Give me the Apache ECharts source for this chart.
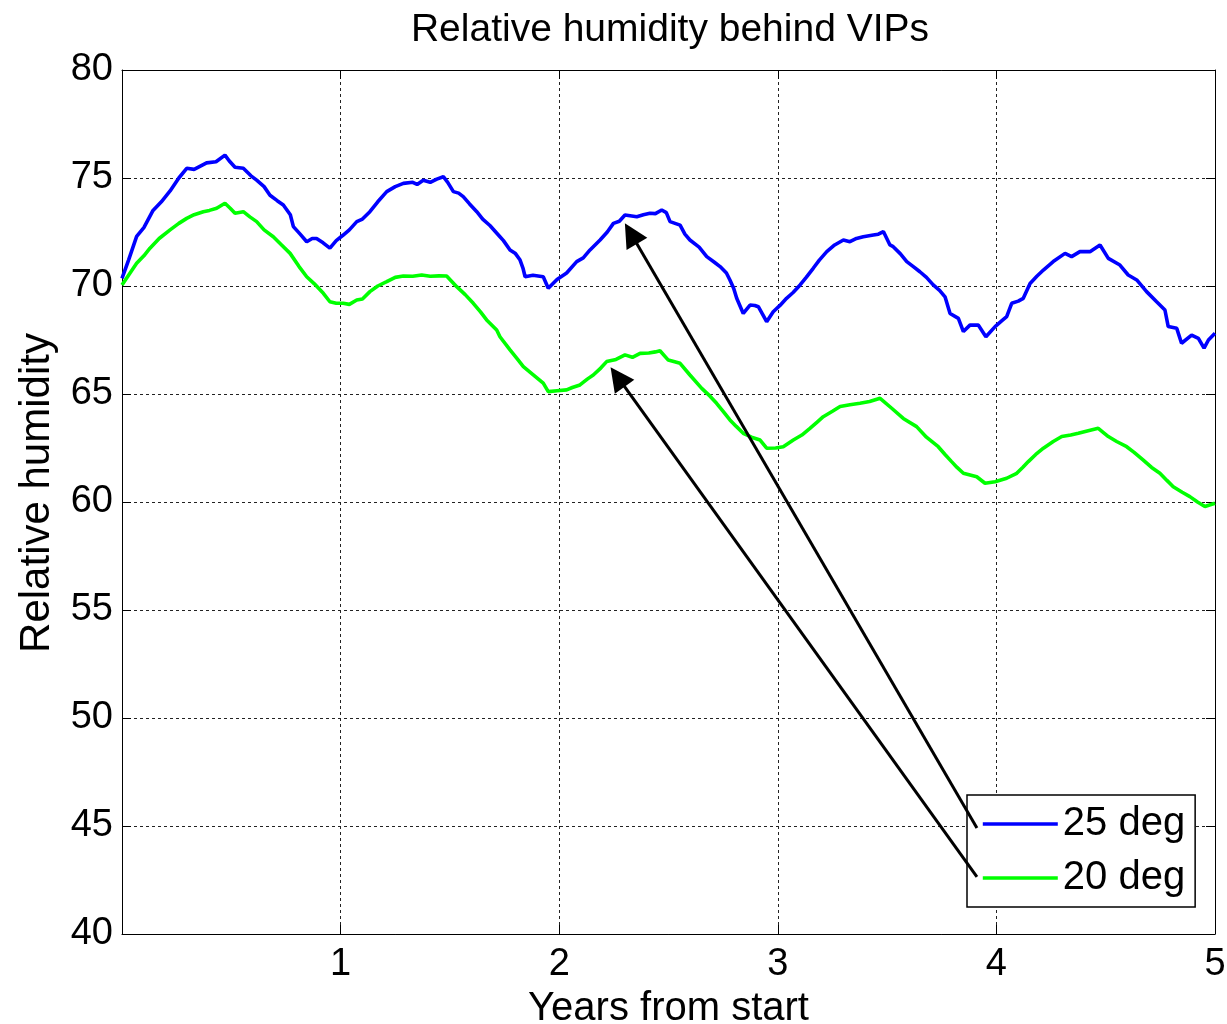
<!DOCTYPE html>
<html>
<head>
<meta charset="utf-8">
<script src="https://cdn.jsdelivr.net/npm/echarts@6/dist/echarts.min.js"></script>
<style>html,body{margin:0;padding:0;background:#fff}#c{width:1227px;height:1024px}</style>
</head>
<body>
<div id="c"></div>
<script>
var titleText = 'Relative humidity behind VIPs';
var xName = 'Years from start';
var yName = 'Relative humidity';
var seriesNames = ['25 deg', '20 deg'];
var xTicks = [0, 1, 2, 3, 4, 5];
var yTicks = [40, 45, 50, 55, 60, 65, 70, 75, 80];

var deg25 = [[0,70.35],[0.03,71.2],[0.067,72.3],[0.1,72.7],[0.142,73.5],[0.18,73.9],[0.22,74.4],[0.26,75.0],[0.296,75.45],[0.33,75.4],[0.387,75.7],[0.43,75.75],[0.471,76.06],[0.49,75.8],[0.517,75.5],[0.555,75.45],[0.59,75.1],[0.616,74.9],[0.65,74.6],[0.677,74.2],[0.71,73.95],[0.738,73.75],[0.77,73.3],[0.784,72.75],[0.815,72.4],[0.845,72.05],[0.87,72.2],[0.89,72.2],[0.92,72.0],[0.951,71.75],[0.98,72.1],[1.012,72.36],[1.04,72.6],[1.074,72.98],[1.1,73.1],[1.134,73.44],[1.17,73.9],[1.211,74.37],[1.25,74.6],[1.287,74.75],[1.33,74.8],[1.35,74.7],[1.378,74.9],[1.41,74.8],[1.44,74.95],[1.47,75.06],[1.49,74.8],[1.516,74.37],[1.54,74.3],[1.561,74.14],[1.59,73.8],[1.623,73.44],[1.65,73.1],[1.683,72.8],[1.729,72.28],[1.745,72.1],[1.775,71.67],[1.8,71.5],[1.821,71.2],[1.835,70.8],[1.844,70.43],[1.88,70.5],[1.927,70.43],[1.95,69.9],[1.99,70.3],[2.034,70.6],[2.08,71.13],[2.11,71.3],[2.141,71.67],[2.187,72.13],[2.22,72.5],[2.248,72.9],[2.275,73.0],[2.301,73.29],[2.355,73.21],[2.385,73.3],[2.415,73.37],[2.44,73.35],[2.469,73.52],[2.49,73.4],[2.507,72.98],[2.553,72.82],[2.575,72.4],[2.598,72.13],[2.64,71.8],[2.675,71.36],[2.71,71.1],[2.736,70.9],[2.765,70.6],[2.781,70.28],[2.798,69.9],[2.812,69.43],[2.842,68.73],[2.873,69.12],[2.895,69.1],[2.911,69.04],[2.93,68.7],[2.949,68.35],[2.979,68.81],[3.01,69.1],[3.04,69.43],[3.07,69.7],[3.102,70.05],[3.13,70.4],[3.162,70.82],[3.19,71.2],[3.224,71.59],[3.26,71.9],[3.3,72.13],[3.33,72.05],[3.36,72.2],[3.391,72.28],[3.437,72.36],[3.46,72.4],[3.483,72.52],[3.513,71.9],[3.528,71.82],[3.56,71.5],[3.59,71.13],[3.62,70.9],[3.65,70.66],[3.68,70.4],[3.711,70.05],[3.74,69.8],[3.765,69.5],[3.788,68.73],[3.826,68.5],[3.849,67.89],[3.879,68.19],[3.917,68.19],[3.952,67.65],[3.994,68.12],[4.02,68.35],[4.047,68.58],[4.07,69.2],[4.1,69.3],[4.123,69.43],[4.154,70.12],[4.185,70.45],[4.215,70.74],[4.26,71.13],[4.314,71.51],[4.344,71.36],[4.382,71.59],[4.428,71.59],[4.474,71.9],[4.512,71.28],[4.565,70.97],[4.603,70.51],[4.642,70.28],[4.687,69.74],[4.733,69.27],[4.771,68.89],[4.786,68.12],[4.825,68.04],[4.847,67.35],[4.893,67.73],[4.924,67.58],[4.95,67.12],[4.97,67.5],[5.0,67.81]];

var deg20 = [[0,70.05],[0.03,70.5],[0.067,71.05],[0.1,71.4],[0.128,71.75],[0.17,72.2],[0.22,72.6],[0.26,72.9],[0.296,73.13],[0.33,73.3],[0.372,73.44],[0.4,73.5],[0.433,73.6],[0.471,73.83],[0.495,73.6],[0.517,73.37],[0.555,73.44],[0.585,73.2],[0.616,72.98],[0.65,72.6],[0.692,72.28],[0.73,71.9],[0.769,71.51],[0.81,70.9],[0.845,70.43],[0.88,70.1],[0.921,69.66],[0.951,69.27],[0.98,69.2],[1.012,69.2],[1.04,69.15],[1.074,69.35],[1.1,69.4],[1.134,69.74],[1.17,70.0],[1.211,70.2],[1.25,70.4],[1.287,70.46],[1.33,70.45],[1.371,70.51],[1.41,70.45],[1.45,70.47],[1.485,70.46],[1.531,69.97],[1.57,69.6],[1.607,69.2],[1.64,68.8],[1.668,68.43],[1.714,67.96],[1.729,67.65],[1.775,67.04],[1.81,66.6],[1.836,66.27],[1.88,65.9],[1.927,65.5],[1.95,65.11],[1.99,65.15],[2.034,65.19],[2.06,65.3],[2.095,65.42],[2.13,65.7],[2.156,65.88],[2.19,66.2],[2.217,66.5],[2.26,66.6],[2.301,66.81],[2.335,66.7],[2.37,66.88],[2.41,66.9],[2.44,66.95],[2.461,67.0],[2.499,66.57],[2.553,66.42],[2.598,65.88],[2.652,65.26],[2.69,64.9],[2.72,64.57],[2.75,64.2],[2.781,63.8],[2.81,63.5],[2.842,63.18],[2.88,63.0],[2.919,62.87],[2.949,62.49],[2.99,62.5],[3.025,62.56],[3.071,62.87],[3.11,63.1],[3.147,63.41],[3.18,63.7],[3.208,63.95],[3.25,64.2],[3.285,64.42],[3.33,64.5],[3.376,64.57],[3.42,64.65],[3.468,64.8],[3.521,64.34],[3.574,63.87],[3.635,63.49],[3.68,63.0],[3.734,62.56],[3.765,62.2],[3.795,61.87],[3.82,61.6],[3.849,61.33],[3.91,61.17],[3.948,60.87],[3.994,60.94],[4.047,61.1],[4.093,61.33],[4.12,61.6],[4.146,61.87],[4.18,62.2],[4.215,62.49],[4.26,62.8],[4.299,63.03],[4.34,63.1],[4.375,63.18],[4.42,63.3],[4.466,63.41],[4.512,63.03],[4.55,62.8],[4.596,62.56],[4.63,62.3],[4.672,61.94],[4.71,61.6],[4.748,61.33],[4.78,61.0],[4.809,60.71],[4.85,60.45],[4.885,60.25],[4.92,60.0],[4.954,59.79],[5.0,59.94]];

// annotation arrows (data coords): tail -> head
var arrowTail = [[3.911, 44.91], [3.911, 42.64]];
var arrowHead = [[2.328, 72.43], [2.267, 65.79]];

var FONT = 'Liberation Sans, Arial, sans-serif';
var chart = echarts.init(document.getElementById('c'), null, {renderer: 'canvas'});

var xMin = xTicks[0], xMax = xTicks[xTicks.length - 1], xInt = xTicks[1] - xTicks[0];
var yMin = yTicks[0], yMax = yTicks[yTicks.length - 1], yInt = yTicks[1] - yTicks[0];

function baseX(extra) {
  return Object.assign({
    type: 'value', min: xMin, max: xMax, interval: xInt,
    axisLine: {show: true, onZero: false, lineStyle: {color: '#000', width: 1}},
    axisTick: {show: true, inside: true, length: 9, lineStyle: {color: '#000'}},
    splitLine: {show: false}
  }, extra);
}
function baseY(extra) {
  return Object.assign({
    type: 'value', min: yMin, max: yMax, interval: yInt,
    axisLine: {show: true, onZero: false, lineStyle: {color: '#000', width: 1}},
    axisTick: {show: true, inside: true, length: 9, lineStyle: {color: '#000'}},
    splitLine: {show: false}
  }, extra);
}

var markData = arrowTail.map(function (t, i) {
  return [{coord: t}, {coord: arrowHead[i]}];
});

chart.setOption({
  animation: false,
  backgroundColor: '#fff',
  title: {
    text: titleText, left: 665, top: 6, textAlign: 'center',
    textStyle: {fontFamily: FONT, fontSize: 39, fontWeight: 'normal', color: '#000'}
  },
  grid: {left: 122, right: 12, top: 70, bottom: 90, containLabel: false, outerBoundsMode: 'none'},
  legend: {
    orient: 'vertical', left: 967, top: 795,
    padding: [7, 10, 7, 14], itemGap: 10, itemWidth: 75, itemHeight: 14,
    borderColor: '#000', borderWidth: 1.5, backgroundColor: '#fff',
    itemStyle: {opacity: 0},
    lineStyle: {width: 3.6},
    textStyle: {fontFamily: FONT, fontSize: 40, color: '#000', lineHeight: 44},
    data: seriesNames
  },
  xAxis: [
    baseX({
      position: 'bottom',
      name: xName, nameLocation: 'middle', nameGap: 48,
      nameTextStyle: {fontFamily: FONT, fontSize: 40, color: '#000'},
      axisLabel: {margin: 12, fontFamily: FONT, fontSize: 38, color: '#000',
        formatter: function (v) { return v === 0 ? '' : String(v); }},
      splitLine: {show: true, lineStyle: {color: '#222', width: 1, type: [3, 3]}}
    }),
    baseX({position: 'top', axisLabel: {show: false}})
  ],
  yAxis: [
    baseY({
      position: 'left',
      name: yName, nameLocation: 'middle', nameGap: 64, nameRotate: 90,
      nameTextStyle: {fontFamily: FONT, fontSize: 42, color: '#000', padding: [0, 0, 0, 18]},
      axisLabel: {margin: 9, fontFamily: FONT, fontSize: 38, color: '#000'},
      splitLine: {show: true, lineStyle: {color: '#222', width: 1, type: [3, 3]}}
    }),
    baseY({position: 'right', axisLabel: {show: false}})
  ],
  series: [
    {
      name: seriesNames[0], type: 'line', data: deg25, showSymbol: false, symbol: 'none',
      lineStyle: {color: '#0000ff', width: 3.6}, itemStyle: {color: '#0000ff'},
      z: 3
    },
    {
      name: seriesNames[1], type: 'line', data: deg20, showSymbol: false, symbol: 'none',
      lineStyle: {color: '#00ff00', width: 3.6}, itemStyle: {color: '#00ff00'},
      z: 2,
      markLine: {
        silent: true, animation: false,
        symbol: ['none', 'triangle'], symbolSize: [24, 24],
        label: {show: false},
        lineStyle: {color: '#000', width: 3, type: 'solid'},
        itemStyle: {color: '#000'},
        emphasis: {disabled: true},
        data: markData
      }
    }
  ]
});
</script>
</body>
</html>
